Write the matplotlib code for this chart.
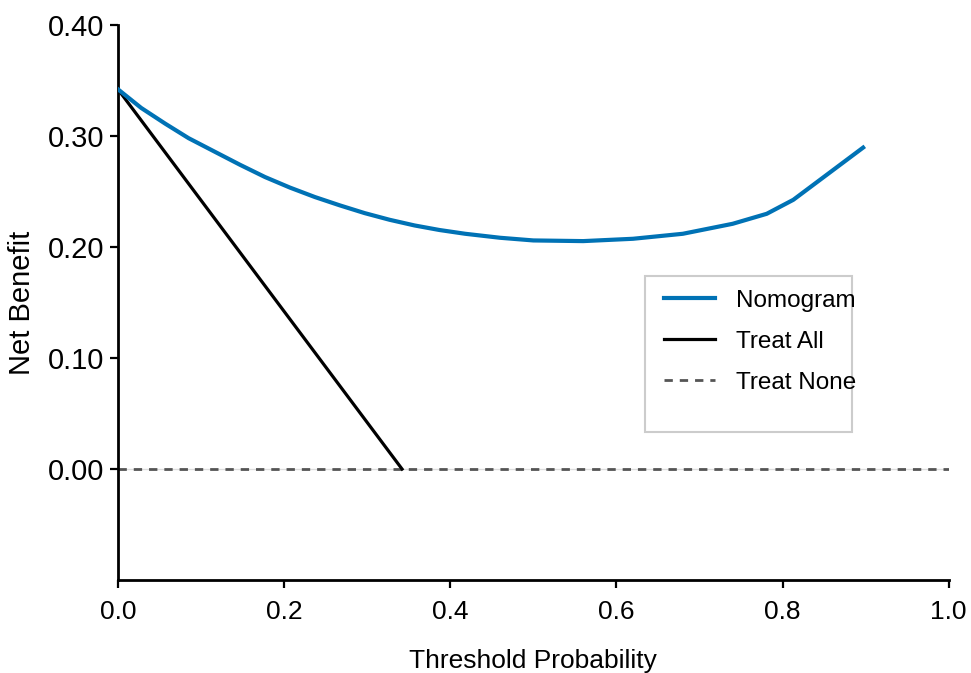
import matplotlib
matplotlib.use("Agg")
import matplotlib.pyplot as plt
from matplotlib.patches import Rectangle

plt.rcParams['font.family'] = ['Liberation Sans', 'DejaVu Sans']

# values
threshold = [0.0, 0.028, 0.057, 0.085, 0.117, 0.147, 0.177, 0.207, 0.237, 0.267, 0.297, 0.327,
             0.357, 0.387, 0.418, 0.46, 0.50, 0.56, 0.62, 0.68, 0.74, 0.781, 0.813, 0.897]
nomogram = [0.342, 0.3252, 0.311, 0.298, 0.2856, 0.274, 0.263, 0.2535, 0.245, 0.2375, 0.2305, 0.2245,
            0.2194, 0.2153, 0.2119, 0.2083, 0.2059, 0.2053, 0.2074, 0.2119, 0.2209, 0.2299, 0.2425, 0.2895]
treat_all_x = [0.0, 0.342]
treat_all_y = [0.342, 0.0]
treat_none_x = [0.0, 1.0]
treat_none_y = [0.0, 0.0]

fig = plt.figure(figsize=(9.71, 6.73), dpi=100)
ax = fig.add_axes([0.1215, 0.138, 0.8555, 0.825])

ax.plot(treat_none_x, treat_none_y, color='#dddddd', lw=1.0, zorder=1)
ax.plot(treat_none_x, treat_none_y, color='#555555', lw=2.0, ls=(0, (3, 2.5)), label='Treat None', zorder=2)
ax.plot(treat_all_x, treat_all_y, color='black', lw=2.3, label='Treat All', zorder=3)
ax.plot(threshold, nomogram, color='#0072b5', lw=3.0, label='Nomogram', zorder=4,
        solid_joinstyle='round')

ax.set_xlim(0, 1.0)
ax.set_ylim(-0.1, 0.40)
ax.set_xticks([0.0, 0.2, 0.4, 0.6, 0.8, 1.0])
ax.set_xticklabels(['0.0', '0.2', '0.4', '0.6', '0.8', '1.0'])
ax.set_yticks([0.0, 0.1, 0.2, 0.3, 0.4])
ax.set_yticklabels(['0.00', '0.10', '0.20', '0.30', '0.40'])
ax.tick_params(direction='out', length=6, width=1.6, color='black')
ax.tick_params(axis='y', pad=4, labelsize=21)
ax.tick_params(axis='x', pad=8, labelsize=19)

for s in ['top', 'right']:
    ax.spines[s].set_visible(False)
for s in ['left', 'bottom']:
    ax.spines[s].set_linewidth(2.0)

ax.set_xlabel('Threshold Probability', fontsize=19, labelpad=18)
ax.set_ylabel('Net Benefit', fontsize=21, labelpad=8)

# legend box with extra empty space at the bottom
ax.add_patch(Rectangle((0.635, 0.267), 0.249, 0.281, transform=ax.transAxes,
                       facecolor='white', edgecolor='#cccccc', lw=1.5, zorder=5))
handles, labels = ax.get_legend_handles_labels()
order = [2, 1, 0]
leg = ax.legend([handles[i] for i in order], [labels[i] for i in order],
                loc='upper left', bbox_to_anchor=(0.631, 0.562), frameon=False,
                fontsize=17.5, handlelength=2.1, labelspacing=0.78, handletextpad=0.85)
leg.set_zorder(6)

fig.savefig('out.png', dpi=100)
